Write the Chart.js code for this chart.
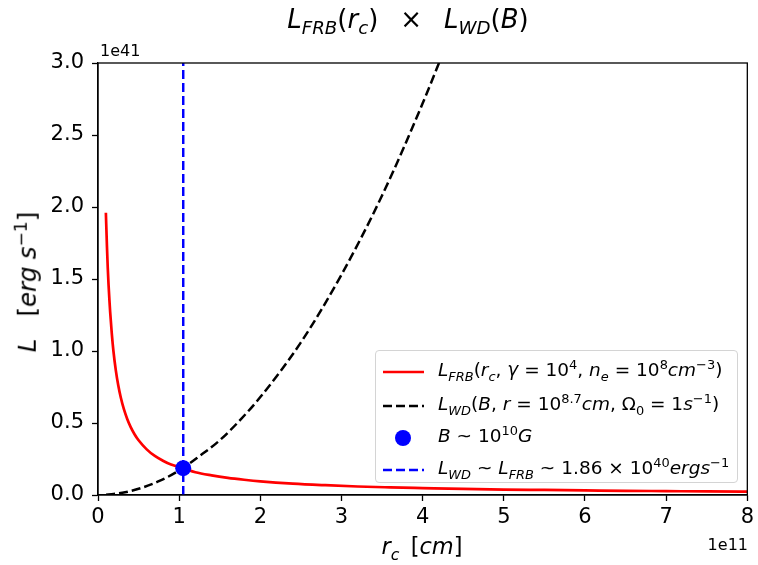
<!DOCTYPE html>
<html>
<head>
<meta charset="utf-8">
<script src="https://cdn.jsdelivr.net/npm/chart.js@4"></script>
<style>
  body { margin: 0; background: #fff; font-family: "DejaVu Sans", sans-serif; }
  #wrap { position: relative; width: 758px; height: 565px; }
  .lbl { position: absolute; white-space: nowrap; color: #000; line-height: 1; }
  i { font-style: oblique; }
  sub, sup { font-size: 70%; line-height: 0; }
  .gap { display: inline-block; }
  #legend { position: absolute; left: 375px; top: 350px; width: 361px; height: 131px;
            border: 1px solid #d4d4d4; border-radius: 4px; background: rgba(255,255,255,0.8); }
  .row { position: absolute; left: 0; height: 30px; width: 100%; }
  .row svg { position: absolute; left: 6px; top: 0; }
  .row span { position: absolute; left: 62px; top: 4px; font-size: 18.5px; white-space: nowrap; line-height: 1; }
</style>
</head>
<body>
<div id="wrap">
  <canvas id="chart" width="758" height="565"></canvas>

  <div class="lbl" style="left:408px; top:6px; font-size:26px; transform:translateX(-50%);">
    <i>L</i><sub><i>FRB</i></sub>(<i>r</i><sub><i>c</i></sub>)<span class="gap" style="width:22px"></span>×<span class="gap" style="width:22px"></span><i>L</i><sub><i>WD</i></sub>(<i>B</i>)
  </div>
  <div class="lbl" style="left:100px; top:43px; font-size:16px;">1e41</div>
  <div class="lbl" style="right:10px; top:537px; font-size:16px;">1e11</div>
  <div class="lbl" style="left:422px; top:535px; font-size:22.5px; transform:translateX(-50%);">
    <i>r</i><sub><i>c</i></sub>&ensp;[<i>cm</i>]
  </div>
  <div class="lbl" style="left:28px; top:282px; font-size:24.5px; transform:translate(-50%,-50%) rotate(-90deg);">
    <i>L</i><span class="gap" style="width:22px"></span>[<i>erg</i><span class="gap" style="width:7px"></span><i>s</i><sup>−1</sup>]
  </div>

  <div id="legend">
    <div class="row" style="top:6px;">
      <svg width="44" height="30"><line x1="1" y1="15" x2="42" y2="15" stroke="#ff0000" stroke-width="2.5"/></svg>
      <span><i>L</i><sub><i>FRB</i></sub>(<i>r</i><sub><i>c</i></sub>, <i>γ</i> = 10<sup>4</sup>, <i>n</i><sub><i>e</i></sub> = 10<sup>8</sup><i>cm</i><sup>−3</sup>)</span>
    </div>
    <div class="row" style="top:40px;">
      <svg width="44" height="30"><line x1="1" y1="15" x2="42" y2="15" stroke="#000" stroke-width="2.5" stroke-dasharray="9 4"/></svg>
      <span><i>L</i><sub><i>WD</i></sub>(<i>B</i>, <i>r</i> = 10<sup>8.7</sup><i>cm</i>, Ω<sub>0</sub> = 1<i>s</i><sup>−1</sup>)</span>
    </div>
    <div class="row" style="top:72px;">
      <svg width="44" height="30"><circle cx="21" cy="15" r="8" fill="#0000ff"/></svg>
      <span><i>B</i> ~ 10<sup>10</sup><i>G</i></span>
    </div>
    <div class="row" style="top:104px;">
      <svg width="44" height="30"><line x1="1" y1="15" x2="42" y2="15" stroke="#0000ff" stroke-width="2.5" stroke-dasharray="9 4"/></svg>
      <span><i>L</i><sub><i>WD</i></sub> ~ <i>L</i><sub><i>FRB</i></sub> ~ 1.86 × 10<sup>40</sup><i>ergs</i><sup>−1</sup></span>
    </div>
  </div>
</div>

<script>
// values (x in 1e11 cm, y in 1e41 erg/s)
const frbX = [0.097, 0.11, 0.12, 0.13, 0.14, 0.15, 0.17, 0.19, 0.22, 0.25, 0.28, 0.32, 0.36, 0.40, 0.45, 0.50, 0.60, 0.70, 0.80, 0.90, 1.05, 1.2, 1.4, 1.6, 1.8, 2.0, 2.4, 2.8, 3.2, 3.6, 4.0, 4.5, 5.0, 5.5, 6.0, 6.5, 7.0, 7.5, 8.0];
const frbY = [1.96, 1.73, 1.58, 1.46, 1.36, 1.27, 1.12, 1.00, 0.864, 0.760, 0.679, 0.594, 0.528, 0.475, 0.422, 0.380, 0.317, 0.271, 0.238, 0.211, 0.186, 0.158, 0.136, 0.119, 0.106, 0.095, 0.079, 0.068, 0.059, 0.053, 0.048, 0.042, 0.038, 0.035, 0.032, 0.029, 0.027, 0.025, 0.024];

const wdX = [0.1, 0.3, 0.5, 0.75, 1.0, 1.25, 1.5, 1.75, 2.0, 2.5, 3.0, 3.5, 4.0, 4.3];
const wdY = [0.002, 0.015, 0.043, 0.096, 0.17, 0.27, 0.38, 0.52, 0.68, 1.06, 1.53, 2.08, 2.72, 3.14];

const crossX = 1.05;
const crossY = 0.186;

const xTicks = [0, 1, 2, 3, 4, 5, 6, 7, 8];
const yTicks = [0.0, 0.5, 1.0, 1.5, 2.0, 2.5, 3.0];

const pts = (xs, ys) => xs.map((x, i) => ({ x: x, y: ys[i] }));

// top and right spines
const frame = {
  id: "frame",
  afterDraw(chart) {
    const a = chart.chartArea, c = chart.ctx;
    c.save();
    c.strokeStyle = "#000";
    c.lineWidth = 1.3;
    c.strokeRect(a.left, a.top, a.right - a.left, a.bottom - a.top);
    c.restore();
  }
};

const tickFont = { family: "DejaVu Sans", size: 21 };

new Chart(document.getElementById("chart"), {
  type: "line",
  data: {
    datasets: [
      {
        data: pts(frbX, frbY),
        borderColor: "#ff0000",
        borderWidth: 2.7,
        pointRadius: 0,
        cubicInterpolationMode: "monotone",
        clip: 0,
        order: 4
      },
      {
        data: pts(wdX, wdY),
        borderColor: "#000000",
        borderWidth: 2.5,
        borderDash: [9, 4],
        pointRadius: 0,
        cubicInterpolationMode: "monotone",
        clip: 0,
        order: 3
      },
      {
        data: [{ x: crossX, y: crossY }],
        showLine: false,
        pointRadius: 8,
        pointBackgroundColor: "#0000ff",
        pointBorderWidth: 0,
        clip: false,
        order: 2
      },
      {
        data: [{ x: crossX, y: 0 }, { x: crossX, y: 3 }],
        borderColor: "#0000ff",
        borderWidth: 2.5,
        borderDash: [9, 4],
        pointRadius: 0,
        clip: 0,
        order: 1
      }
    ]
  },
  options: {
    responsive: false,
    animation: false,
    events: [],
    layout: { padding: { top: 63, right: 10, left: 0, bottom: 0 } },
    plugins: { legend: { display: false }, tooltip: { enabled: false } },
    scales: {
      x: {
        type: "linear",
        min: 0,
        max: 8,
        afterFit: s => { s.height = 70; },
        afterBuildTicks: s => { s.ticks = xTicks.map(v => ({ value: v })); },
        ticks: { color: "#000", font: tickFont, padding: 4, maxRotation: 0,
                 callback: v => String(v) },
        grid: { drawOnChartArea: false, tickLength: 6, tickColor: "#000", tickWidth: 1.3 },
        border: { color: "#000", width: 1.3 }
      },
      y: {
        min: 0,
        max: 3,
        afterFit: s => { s.width = 98; },
        afterBuildTicks: s => { s.ticks = yTicks.map(v => ({ value: v })); },
        ticks: { color: "#000", font: tickFont, padding: 8,
                 callback: v => v.toFixed(1) },
        grid: { drawOnChartArea: false, tickLength: 6, tickColor: "#000", tickWidth: 1.3 },
        border: { color: "#000", width: 1.3 }
      }
    }
  },
  plugins: [frame]
});
</script>
</body>
</html>
